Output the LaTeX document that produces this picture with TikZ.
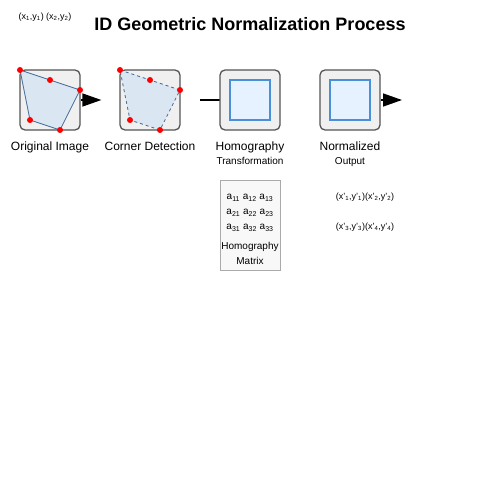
\documentclass[tikz,border=0pt]{standalone}
\usepackage{fontspec}
\setmainfont{Liberation Sans}
\usetikzlibrary{arrows.meta}
\newcommand\sbx[1]{\textsubscript{#1}}
\definecolor{boxfill}{HTML}{F0F0F0}
\definecolor{boxline}{HTML}{555555}
\definecolor{polyfill}{HTML}{DAE6F2}
\definecolor{polyline}{HTML}{4A6E9A}
\definecolor{innerfill}{HTML}{E6F2FF}
\definecolor{innerline}{HTML}{4A90D9}
\definecolor{matfill}{HTML}{F8F8F8}
\definecolor{matline}{HTML}{AAAAAA}
\begin{document}
\begin{tikzpicture}[x=1pt,y=-1pt,
  stage/.style={draw=boxline,fill=boxfill,line width=1.3pt,rounded corners=5pt,minimum width=60pt,minimum height=60pt,inner sep=0pt},
  inner/.style={draw=innerline,fill=innerfill,line width=1.2pt,minimum width=40pt,minimum height=40pt,inner sep=0pt},
  poly/.style={draw=polyline,fill=polyfill,line width=0.8pt},
  dot/.style={circle,fill=red,inner sep=0pt,minimum size=6pt},
  lbl/.style={font=\fontsize{12}{14}\selectfont,inner sep=0pt,anchor=base},
  sublbl/.style={font=\fontsize{10}{12}\selectfont,inner sep=0pt,anchor=base},
  small/.style={font=\fontsize{9}{11}\selectfont,inner sep=0pt,anchor=base},
  mtxt/.style={font=\fontsize{10}{12}\selectfont,inner sep=0pt,anchor=base},
  bigarrow/.style={line width=1.5pt,-{Triangle[length=19pt,width=13pt]}},
  plain/.style={line width=1.5pt}
]
\useasboundingbox (0,0) rectangle (500,500);
\node[font=\fontsize{18}{22}\selectfont\bfseries,inner sep=0pt] (title) at (250,24) {ID Geometric Normalization Process};
\node[small] (coords) at (45,19.5) {(x\sbx{1},y\sbx{1}) (x\sbx{2},y\sbx{2})};

% stage 1
\node[stage] (s1) at (50,100) {};
\filldraw[poly] (20,70) -- (50,80) -- (80,90) -- (60,130) -- (30,120) -- cycle;
\foreach \p/\n in {{(20,70)}/a,{(50,80)}/b,{(80,90)}/c,{(60,130)}/d,{(30,120)}/e}
  \node[dot] (p1\n) at \p {};
\node[lbl] (l1) at (50,150) {Original Image};

% stage 2
\node[stage] (s2) at (150,100) {};
\filldraw[poly,dashed] (120,70) -- (150,80) -- (180,90) -- (160,130) -- (130,120) -- cycle;
\foreach \p/\n in {{(120,70)}/a,{(150,80)}/b,{(180,90)}/c,{(160,130)}/d,{(130,120)}/e}
  \node[dot] (p2\n) at \p {};
\node[lbl] (l2) at (150,150) {Corner Detection};

% stage 3
\coordinate (c3) at (200,100);
\draw[plain] (c3) -- (220,100);
\node[stage] (s3) at (250,100) {};
\node[inner] (i3) at (250,100) {};
\node[lbl] (l3) at (250,150) {Homography};
\node[sublbl] (l3b) at (250,164.5) {Transformation};

% stage 4
\node[stage] (s4) at (350,100) {};
\node[inner] (i4) at (350,100) {};
\node[lbl] (l4) at (350,150) {Normalized};
\node[sublbl] (l4b) at (350,164.5) {Output};

% arrows
\draw[bigarrow,shorten >=18pt] (s1.east) -- (s2.west);
\coordinate (endout) at (402,100);
\draw[bigarrow] (s4.east) -- (endout);

% matrix
\node[draw=matline,fill=matfill,line width=1pt,minimum width=60pt,minimum height=90pt,inner sep=0pt] (mat) at (250,225) {};
\node[mtxt] (m1) at (250,199.5) {a\sbx{11} a\sbx{12} a\sbx{13}};
\node[mtxt] (m2) at (250,214.5) {a\sbx{21} a\sbx{22} a\sbx{23}};
\node[mtxt] (m3) at (250,229.5) {a\sbx{31} a\sbx{32} a\sbx{33}};
\node[mtxt] (m4) at (250,249.5) {Homography};
\node[mtxt] (m5) at (250,264.5) {Matrix};

% output coords
\node[small] (o1) at (365,199.5) {(x'\sbx{1},y'\sbx{1})(x'\sbx{2},y'\sbx{2})};
\node[small] (o2) at (365,229.5) {(x'\sbx{3},y'\sbx{3})(x'\sbx{4},y'\sbx{4})};
\end{tikzpicture}
\end{document}
